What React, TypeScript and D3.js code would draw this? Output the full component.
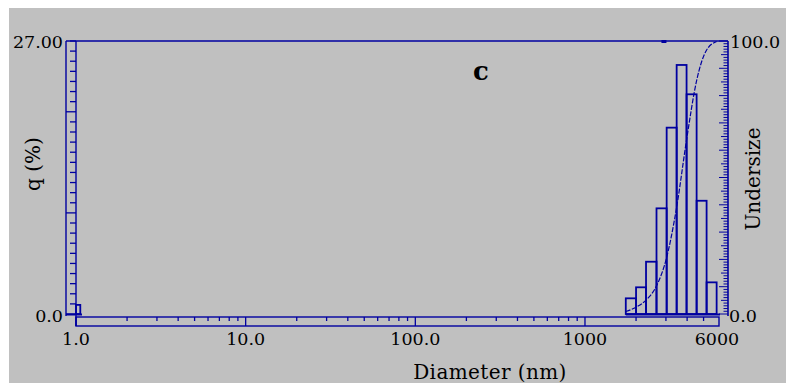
import * as d3 from "d3";

// particle size distribution (histogram, q %)
const binLow = [1.0, 1740, 2000, 2290, 2640, 3030, 3470, 3970, 4550, 5210];
const binHigh = [1.06, 2000, 2290, 2640, 3030, 3470, 3970, 4550, 5210, 5970];
const qPercent = [0.9, 1.55, 2.64, 5.17, 10.45, 18.43, 24.63, 21.73, 11.2, 3.13];

// cumulative undersize curve
const undersizeDiam = [1740, 2000, 2290, 2640, 3030, 3470, 3970, 4550, 5210, 5970];
const undersizePct = [0.9, 2.5, 5.1, 10.3, 20.7, 39.1, 63.8, 85.5, 96.7, 99.8];

const xTickValues = [1, 10, 100, 1000, 6000];
const xTickLabels = ["1.0", "10.0", "100.0", "1000", "6000"];
const leftTickLabels = ["0.0", "27.00"];
const rightTickLabels = ["0.0", "100.0"];
const markerDiam = [2920];

const W = 786;
const H = 383;
const BLUE = "#0000a0";
const GREY = "#c0c0c0";
const FONT = "'DejaVu Serif', serif";

export default function App() {
  const x = d3.scaleLog().domain([1, 6000]).range([76, 717]);
  const yL = d3.scaleLinear().domain([0, 27]).range([314, 41]);
  const yR = d3.scaleLinear().domain([0, 100]).range([314, 41]);

  const minorX = x.ticks().filter((v) => !xTickValues.includes(v));
  const leftTicks = d3.range(0, 28, 1);
  const rightTicks = d3.range(0, 101, 1);

  const line = d3
    .line<number>()
    .x((_, i) => x(undersizeDiam[i]))
    .y((d) => yR(d))
    .curve(d3.curveMonotoneX);

  return (
    <svg width={W} height={H} style={{ position: "absolute", left: 0, top: 0 }} fontFamily={FONT}>
      <rect x={0} y={0} width={W} height={H} fill="#fff" />
      <rect x={9} y={8} width={W - 9} height={H - 8} fill={GREY} />

      {/* frame */}
      <line x1={66} x2={728} y1={41} y2={41} stroke={BLUE} strokeWidth={1.4} />
      <line x1={66} x2={66} y1={41} y2={316} stroke={BLUE} strokeWidth={1.4} />
      <line x1={76} x2={76} y1={41} y2={326} stroke={BLUE} strokeWidth={1.4} />
      <line x1={66} x2={82} y1={314.5} y2={314.5} stroke={BLUE} strokeWidth={2} />
      <line x1={728} x2={728} y1={41} y2={316} stroke={BLUE} strokeWidth={1.6} />
      {markerDiam.map((d, i) => (
        <rect key={i} x={x(d) - 2.5} y={40} width={5} height={3} fill={BLUE} />
      ))}

      {/* left axis ticks */}
      {leftTicks.map((t) => (
        <line
          key={t}
          x1={t % 10 === 0 ? 66 : 70}
          x2={76}
          y1={yL(t)}
          y2={yL(t)}
          stroke={BLUE}
          strokeWidth={1.3}
        />
      ))}

      {/* right axis ticks */}
      {rightTicks.map((t) => (
        <line
          key={t}
          x1={t % 10 === 0 ? 719 : t % 5 === 0 ? 721 : 723.5}
          x2={728}
          y1={yR(t)}
          y2={yR(t)}
          stroke={BLUE}
          strokeWidth={1}
        />
      ))}

      {/* x axis box */}
      <rect x={76} y={317} width={643} height={9} fill="none" stroke={BLUE} strokeWidth={1.4} />
      {minorX.map((v) => (
        <line key={v} x1={x(v)} x2={x(v)} y1={317} y2={321} stroke={BLUE} strokeWidth={1.3} />
      ))}
      {xTickValues.slice(0, 4).map((v) => (
        <line key={v} x1={x(v)} x2={x(v)} y1={317} y2={326} stroke={BLUE} strokeWidth={1.3} />
      ))}

      {/* bars */}
      <line x1={x(binLow[1])} x2={720} y1={314.5} y2={314.5} stroke={BLUE} strokeWidth={2.2} />
      {qPercent.map((q, i) => (
        <rect
          key={i}
          x={x(binLow[i])}
          y={yL(q)}
          width={x(binHigh[i]) - x(binLow[i])}
          height={yL(0) - yL(q)}
          fill="none"
          stroke={BLUE}
          strokeWidth={1.8}
        />
      ))}

      {/* undersize curve */}
      <path d={line(undersizePct) || ""} fill="none" stroke={BLUE} strokeWidth={1.2} strokeDasharray="5 1.5" />

      {/* tick labels */}
      {xTickValues.map((v, i) => (
        <text key={v} x={x(v)} y={345} fontSize={17.5} textAnchor="middle" fill="#000">
          {xTickLabels[i]}
        </text>
      ))}
      <text x={63} y={321.5} fontSize={17.5} textAnchor="end">{leftTickLabels[0]}</text>
      <text x={63} y={47.5} fontSize={17.5} textAnchor="end">{leftTickLabels[1]}</text>
      <text x={729} y={322} fontSize={17.5}>{rightTickLabels[0]}</text>
      <text x={730} y={48} fontSize={17.5}>{rightTickLabels[1]}</text>

      {/* titles */}
      <text x={490} y={379} fontSize={20} textAnchor="middle" letterSpacing={0.4}>Diameter (nm)</text>
      <text transform="translate(760,179) rotate(-90)" fontSize={20} textAnchor="middle">Undersize</text>
      <text transform="translate(40,164) rotate(-90)" fontSize={20} textAnchor="middle">q (%)</text>
      <text x={481} y={80} fontSize={26} fontWeight="bold" textAnchor="middle">c</text>
    </svg>
  );
}
